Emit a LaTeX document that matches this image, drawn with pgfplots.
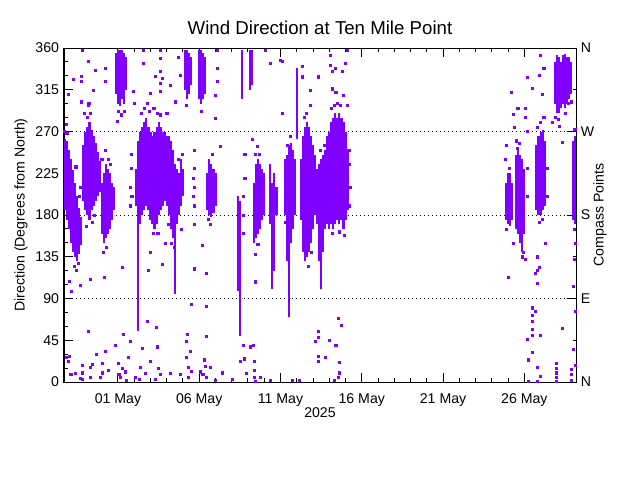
\documentclass[border=0pt]{standalone}
\usepackage{fontspec}
\setmainfont{Liberation Sans}
\usepackage{pgfplots}
\pgfplotsset{compat=1.18}
\usepackage{pgfplotstable}
\definecolor{wind}{RGB}{127,0,255}

% dense runs of readings: day (from 01 May), lowest direction, extent
\pgfplotstableread{
d lo len
-3.25 185 77
-3.125 175 85
-3.0 165 85
-2.875 150 90
-2.75 140 88
-2.625 135 80
-2.5 130 70
-2.375 138 50
-2.25 148 30
-2.125 195 60
-2.0 185 85
-1.875 180 95
-1.75 175 105
-1.625 185 87
-1.5 190 75
-1.375 195 63
-1.25 200 48
-1.125 205 33
-1.0 160 55
-0.875 150 75
-0.75 155 80
-0.625 160 70
-0.5 165 60
-0.375 175 40
-0.25 185 25
-0.125 310 45
0.0 300 58
0.125 298 60
0.25 305 53
0.375 300 55
0.5 315 35
1.125 190 40
1.25 55 205
1.375 170 100
1.5 180 95
1.625 185 95
1.75 190 95
1.875 185 90
2.0 175 95
2.125 170 95
2.25 165 105
2.375 170 105
2.5 180 100
2.625 185 90
2.75 190 80
2.875 195 75
3.0 190 75
3.125 180 85
3.25 165 95
3.375 155 95
3.5 95 140
3.625 170 60
3.75 180 45
3.875 190 50
4.0 200 30
4.125 315 43
4.25 305 53
4.375 310 45
4.5 320 30
5.0 305 53
5.125 300 58
5.25 305 50
5.375 310 40
5.5 185 40
5.625 180 60
5.75 178 57
5.875 182 48
6.0 190 35
7.375 98 102
7.5 50 145
7.625 305 53
8.125 315 43
8.25 320 38
8.375 150 65
8.5 155 80
8.625 160 80
8.75 165 70
8.875 175 55
9.0 180 45
9.375 170 65
9.5 100 115
9.625 120 105
9.75 180 30
10.25 180 60
10.375 130 115
10.5 70 185
10.625 150 108
10.75 165 85
10.875 180 60
11.0 262 76
11.25 175 65
11.375 140 125
11.5 130 145
11.625 135 145
11.75 140 135
11.875 150 115
12.0 165 90
12.125 180 65
12.25 170 60
12.375 130 105
12.5 100 140
12.625 140 105
12.75 165 85
12.875 170 95
13.0 165 105
13.125 170 110
13.25 165 120
13.375 170 120
13.5 175 110
13.625 170 120
13.75 175 110
13.875 165 115
14.0 175 95
14.125 185 65
23.875 175 40
24.0 170 55
24.125 168 57
24.25 175 40
24.5 165 80
24.625 160 90
24.75 150 95
24.875 140 100
25.0 160 70
25.75 185 70
25.875 180 85
26.0 180 90
26.125 185 87
26.25 190 70
26.875 300 45
27.0 290 62
27.125 290 60
27.25 295 50
27.375 300 52
27.5 295 59
27.625 300 50
27.75 305 45
27.875 310 35
28.0 175 85
28.125 170 95
}\runs

% scattered single readings: day, direction
\pgfplotstableread{
d deg
-3.08 22
-3.2 27
-3.0 28
-2.9 8
-2.65 9
-2.34 4
-2.22 3
-2.22 10
-2.22 18
-1.85 55
-1.72 16
-1.72 5
-1.6 19
-1.35 30
-1.11 5
-0.98 10
-0.98 20
-0.8 33
-0.62 13
-0.18 40
0.0 20
0.05 8
0.12 5
0.25 15
0.3 51
0.43 11
0.5 2
0.62 27
0.74 44
1.05 5
1.3 3
1.35 16
1.5 36
1.66 9
1.78 65
1.97 22
2.28 3
2.35 59
2.4 38
2.5 15
2.58 8
3.2 9
3.82 8
4.18 44
4.18 27
4.25 51
4.31 16
4.31 5
4.43 33
4.5 84
4.5 12
5.05 11
5.22 8
5.29 24
5.35 17
5.42 49
5.42 5
5.66 16
5.97 2
6.4 10
7.02 3
7.51 22
7.7 40
7.75 25
7.88 9
8.12 38
8.31 40
8.37 22
8.37 13
8.37 5
8.43 1
8.74 5
9.35 2
10.71 2
11.15 2
12.31 55
12.31 48
12.31 28
12.31 22
12.12 44
12.74 27
13.0 45
13.4 40
13.54 5
13.55 69
13.6 21
13.62 10
13.72 61
13.3 2
-3.0 109
-2.85 98
-2.34 104
-1.72 111
-0.86 113
0.25 124
1.88 120
4.7 122
2.7 127
5.42 117
5.42 82
5.2 147
8.43 108
8.43 138
-3.2 278
-3.08 310
-2.77 326
-2.28 330
-2.28 324
-2.28 302
-2.22 358
-1.85 346
-1.85 298
-1.54 314
-1.4 336
-0.8 338
-0.8 324
-0.06 281
0.92 313
1.0 300
1.54 358
1.54 344
1.97 311
2.28 330
2.58 358
2.58 349
2.58 335
2.58 322
2.58 313
2.71 327
3.2 320
3.51 302
3.82 331
3.7 350
6.09 358
6.09 338
6.09 324
5.97 309
5.97 284
6.28 254
8.25 262
8.55 254
9.05 358
9.35 344
9.97 347
10.1 346
10.1 290
11.32 329
11.32 340
11.82 314
11.82 298
12.31 329
13.05 352
13.05 341
13.17 335
13.35 338
13.78 335
13.97 344
14.09 358
13.4 312
13.17 316
13.85 309
14.09 298
14.2 235
14.3 210
1.8 300
2.2 295
3.0 290
2.0 140
2.9 150
3.9 165
4.7 170
4.7 190
4.7 210
4.7 230
4.7 250
4.62 200
4.62 220
7.7 160
7.7 180
7.7 200
7.8 220
7.8 245
0.75 190
0.75 210
0.8 230
0.8 245
0.85 200
-2.4 200
-2.3 210
-1.0 240
-0.8 250
-3.3 270
-3.15 268
-2.7 125
-2.55 120
-2.45 128
-2.6 232
-2.05 290
-1.9 285
-1.8 300
-1.7 290
-1.95 168
-1.6 172
-1.45 180
-0.9 140
-0.7 145
-0.6 240
-0.45 235
0.0 292
0.2 288
0.4 292
1.45 290
1.6 295
1.9 292
2.4 290
2.6 288
2.15 160
2.45 160
3.3 150
3.45 145
3.1 170
3.7 240
3.95 245
4.2 298
5.1 292
5.55 175
5.7 170
5.8 245
8.45 245
8.7 245
8.6 148
10.4 255
10.6 265
10.3 172
11.45 285
11.6 290
11.7 125
11.9 140
12.45 250
12.7 255
13.1 295
13.3 298
13.5 300
13.7 298
13.2 160
13.6 162
13.9 158
14.2 190
14.2 250
23.9 165
24.1 230
24.55 252
24.7 257
24.95 140
25.8 275
26.0 280
26.1 175
25.9 172
26.9 285
27.1 283
27.5 290
27.7 300
27.9 302
28.05 165
28.1 272
24.0 113
24.18 312
24.31 289
24.6 295
24.4 275
25.17 328
25.05 285
25.05 295
25.48 317
25.9 331
25.97 352
26.2 338
26.1 310
26.7 280
27.14 276
27.32 258
24.9 135
25.05 132
25.78 135
25.78 120
25.78 106
25.9 124
25.66 117
25.48 80
25.48 72
25.48 65
25.48 57
25.48 50
25.66 76
25.17 46
25.48 32
25.23 24
25.97 50
25.78 16
25.97 6
25.23 1
25.78 1
26.95 1
26.95 5
26.95 10
26.95 15
26.95 20
27.32 58
27.88 2
27.88 8
27.88 14
28.12 18
28.0 35
28.15 76
28.0 103
28.06 132
28.12 150
23.85 240
23.9 255
24.3 150
24.5 260
26.3 150
26.2 285
25.2 200
25.2 230
25.2 270
26.4 200
26.4 230
}\spots

\begin{document}
\fontsize{10.6}{12.7}\selectfont
\begin{tikzpicture}[x=1pt,y=1pt]
\useasboundingbox (0,0) rectangle (480,360);
% compass scale on the right, with the dotted lines at E, S and W
\begin{axis}[
  at={(48pt,73.5pt)}, anchor=south west, scale only axis,
  width=384pt, height=250.5pt,
  xmin=-3.32, xmax=28.18, ymin=0, ymax=360,
  hide x axis, axis y line*=right,
  ytick={0,90,180,270,360}, yticklabels={N,E,S,W,N},
  minor ytick={45,135,225,315},
  tick align=inside,
  major tick length=6.5pt, minor tick length=2.5pt,
  tick style={black, line width=0.75pt},
  axis line style={line width=0.75pt},
  ymajorgrids, major grid style={black, line width=0.75pt, dash pattern=on 0.75pt off 2.25pt},
  ylabel={Compass Points},
  ylabel style={at={(axis description cs:1.047,0.5)}, anchor=center},
]
\end{axis}
\begin{axis}[
  at={(48pt,73.5pt)}, anchor=south west, scale only axis,
  width=384pt, height=250.5pt,
  xmin=-3.32, xmax=28.18, ymin=0, ymax=360,
  xtick={0,5,10,15,20,25},
  xticklabels={01 May,06 May,11 May,16 May,21 May,26 May},
  minor x tick num=4,
  ytick={0,45,...,360}, minor y tick num=2,
  ytick pos=left, xtick pos=both,
  tick align=inside,
  major tick length=7pt, minor tick length=3pt,
  tick style={black, line width=0.75pt},
  axis line style={line width=0.75pt},
  xticklabel style={yshift=-5pt},
  /pgf/number format/assume math mode=true,
  title={Wind Direction at Ten Mile Point},
  title style={at={(axis description cs:0.5,1.036)}, anchor=center,
    font=\fontsize{14}{17}\selectfont},
  xlabel={2025},
  xlabel style={at={(axis description cs:0.5,-0.093)}, anchor=center},
  ylabel={Direction (Degrees from North)},
  ylabel style={at={(axis description cs:-0.084,0.5)}, anchor=center},
]
\addplot[wind, draw=none, mark=none, error bars/.cd, y dir=plus, y explicit,
  error mark=none, error bar style={draw=wind, solid, line width=1.6pt}]
  table[x=d, y=lo, y error=len] {\runs};
\addplot[wind, only marks, mark=square*, mark size=0.8pt,
  mark options={draw=none, fill=wind}]
  table[x=d, y=deg] {\spots};
\end{axis}
\end{tikzpicture}
\end{document}
